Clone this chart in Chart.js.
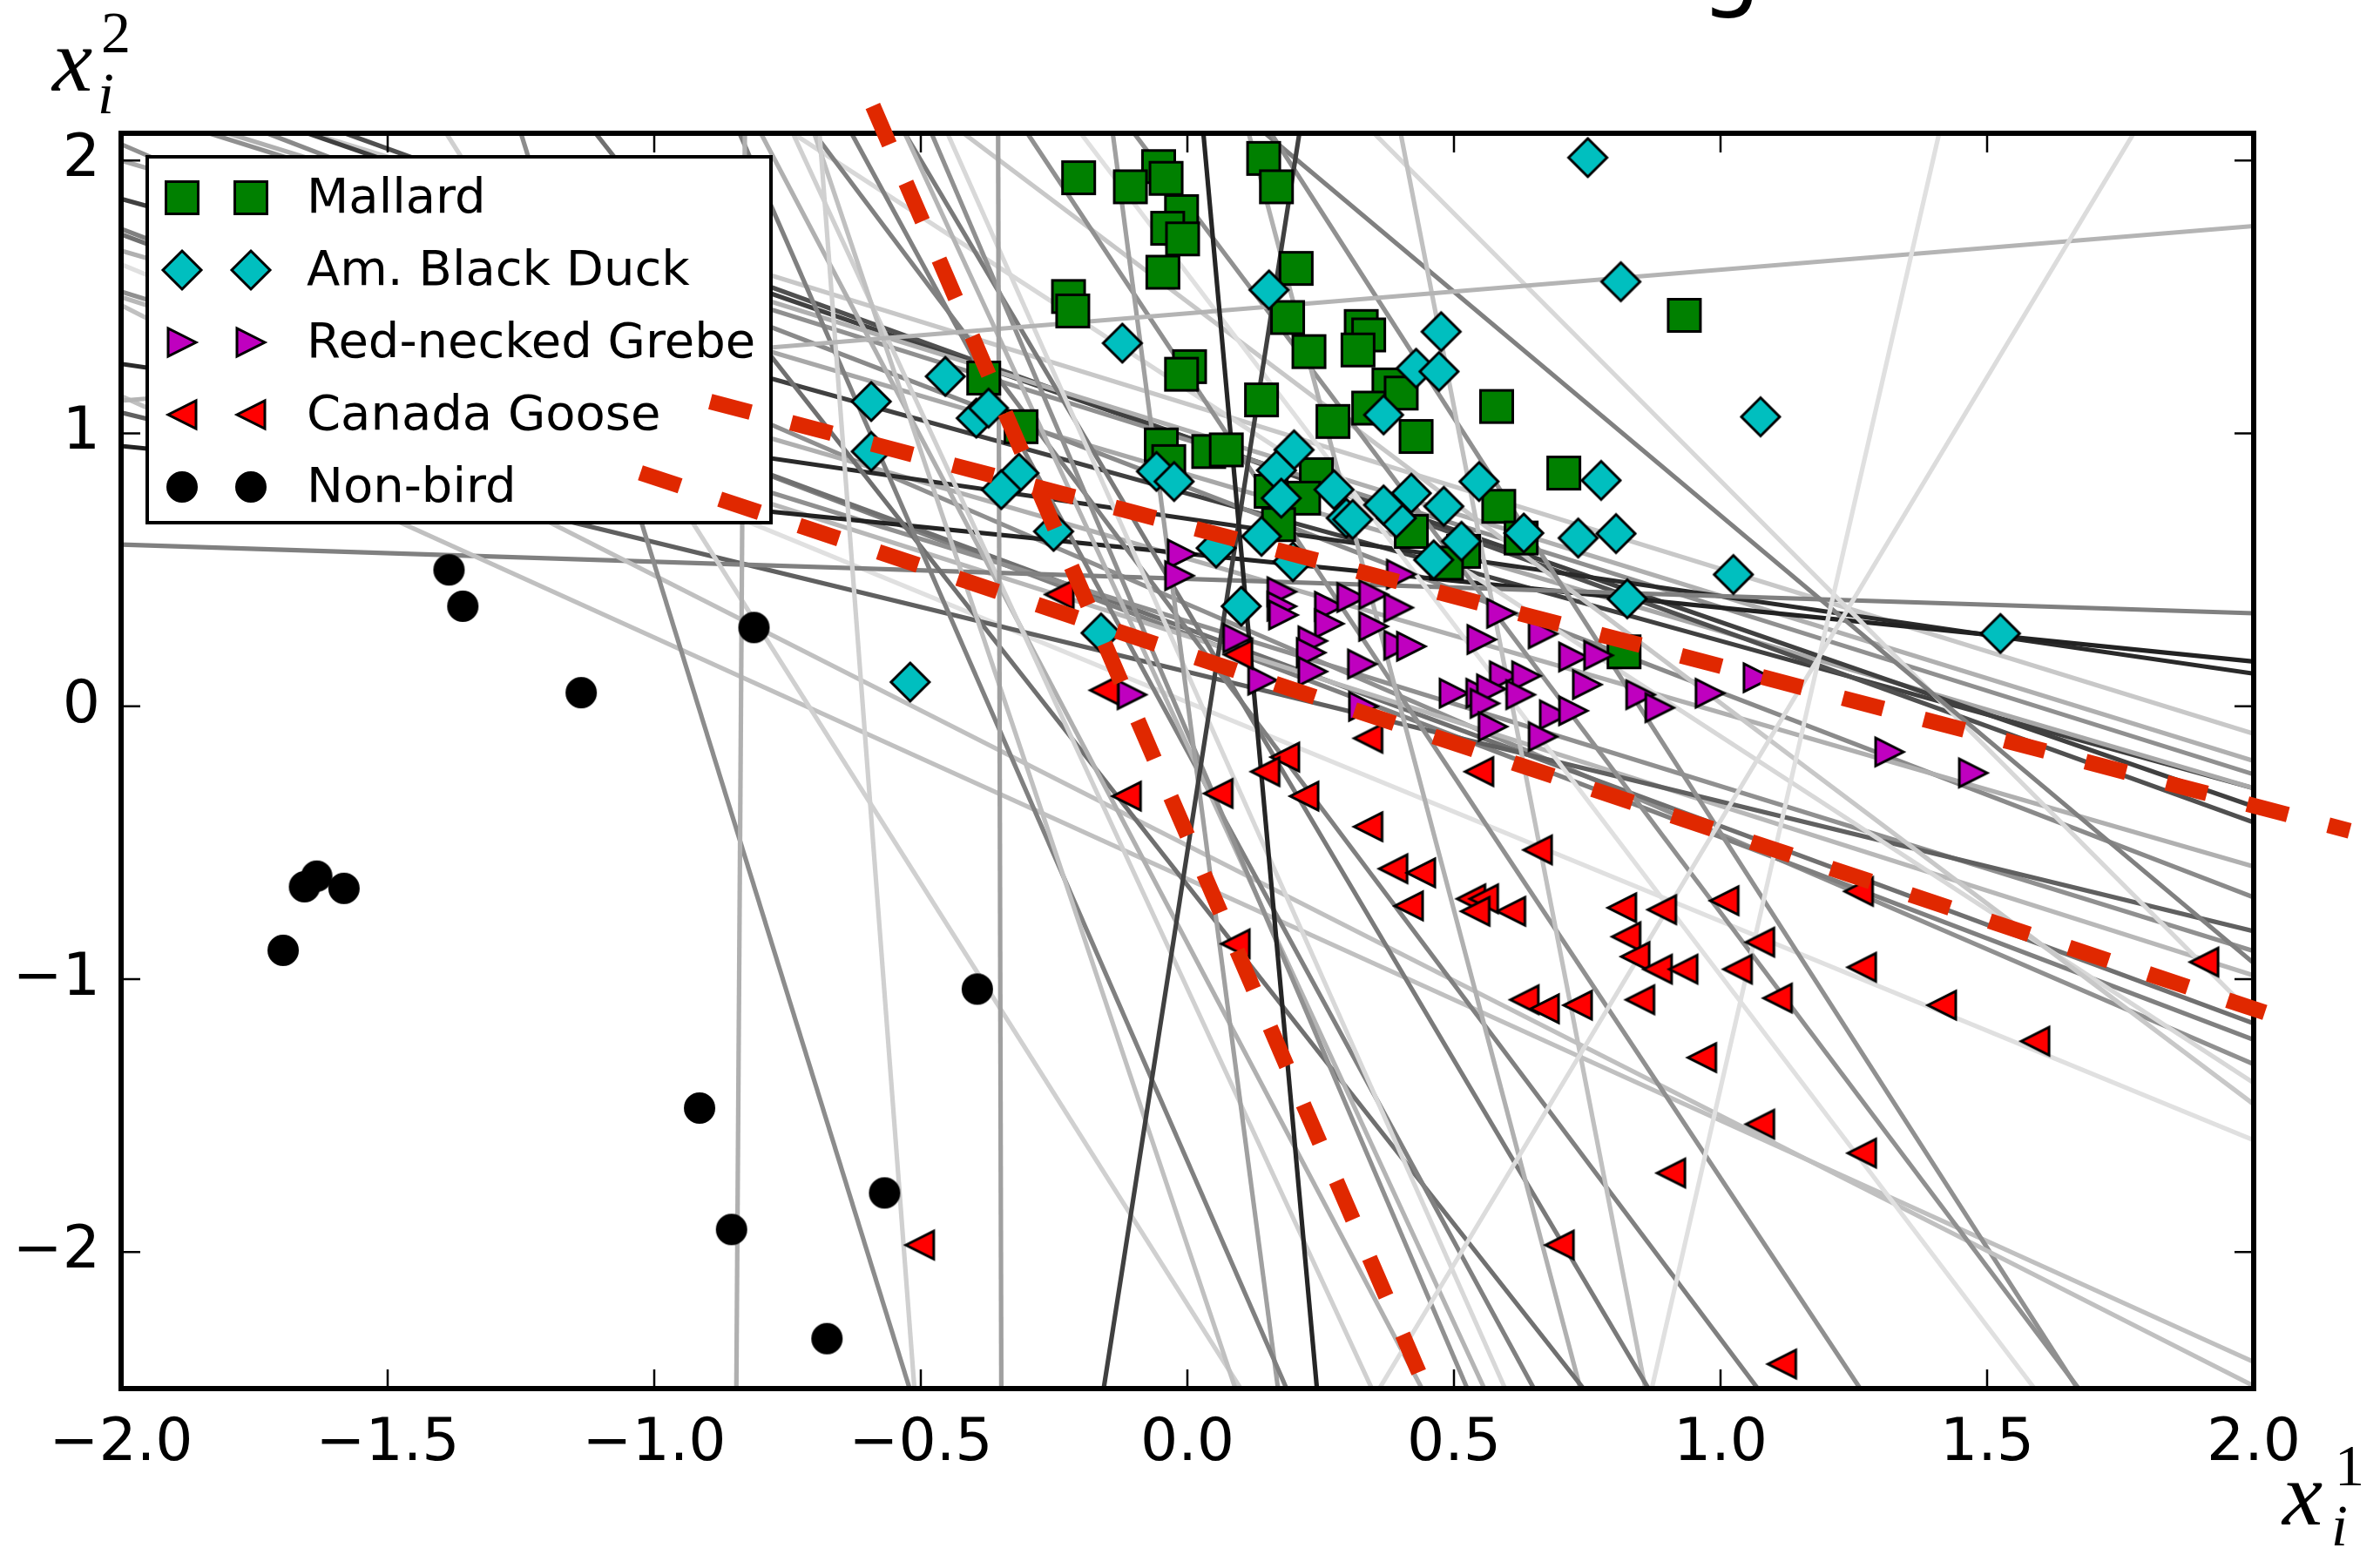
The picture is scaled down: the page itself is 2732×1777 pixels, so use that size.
<!DOCTYPE html>
<html>
<head>
<meta charset="utf-8">
<script src="https://cdn.jsdelivr.net/npm/chart.js@4.4.1/dist/chart.umd.min.js"></script>
<style>
  html, body { margin: 0; padding: 0; background: #fff; }
  canvas { display: block; }
</style>
</head>
<body>
<canvas id="birdChart" width="2732" height="1777"></canvas>
<script>
// points per class (x_i^1, x_i^2)
const mallardX = [-0.204,-0.054,-0.040,-0.107,0.143,0.167,-0.011,-0.037,-0.009,-0.046,0.204,-0.223,-0.215,0.188,0.326,0.340,0.320,0.228,0.004,-0.011,-0.382,0.139,0.378,0.401,0.340,0.580,0.273,0.429,-0.312,-0.049,-0.035,0.040,0.073,0.706,0.242,0.218,0.157,0.584,0.420,0.626,0.171,0.518,0.486,0.932,0.819];
const mallardY = [1.937,1.978,1.935,1.904,2.008,1.904,1.813,1.752,1.713,1.591,1.605,1.502,1.449,1.425,1.392,1.361,1.306,1.300,1.245,1.217,1.203,1.123,1.178,1.148,1.093,1.099,1.044,0.989,1.025,0.958,0.897,0.934,0.940,0.855,0.849,0.763,0.788,0.733,0.641,0.617,0.666,0.568,0.525,1.433,0.200];

const duckX = [0.153,-0.122,0.476,-0.454,0.429,0.472,-0.593,-0.396,-0.373,0.368,-0.593,-0.316,-0.349,-0.058,-0.025,0.200,0.167,0.176,0.275,0.298,0.310,0.392,0.420,0.368,0.481,0.547,0.514,0.631,0.462,0.139,0.054,-0.251,0.101,-0.162,0.751,0.813,1.075,0.776,0.733,0.804,0.825,1.024,1.525,-0.520,0.198];
const duckY = [1.526,1.331,1.373,1.209,1.239,1.227,1.117,1.056,1.093,1.068,0.934,0.855,0.794,0.861,0.824,0.940,0.865,0.763,0.794,0.690,0.685,0.690,0.781,0.738,0.733,0.824,0.605,0.635,0.537,0.623,0.580,0.641,0.367,0.269,2.011,1.556,1.061,0.828,0.617,0.633,0.394,0.483,0.267,0.089,0.530];

const grebeX = [-0.010,-0.015,0.177,0.177,0.180,0.266,0.308,0.349,0.401,0.396,0.266,0.349,0.094,0.235,0.396,0.420,0.232,0.235,0.328,0.141,-0.104,0.589,0.552,0.667,0.724,0.771,0.594,0.636,0.500,0.550,0.570,0.625,0.558,0.688,0.724,0.573,0.667,0.750,0.850,0.886,0.980,1.070,1.317,1.474,0.330];
const grebeY = [0.558,0.479,0.420,0.367,0.335,0.367,0.399,0.410,0.484,0.362,0.303,0.293,0.250,0.240,0.224,0.220,0.197,0.128,0.155,0.096,0.043,0.341,0.245,0.266,0.181,0.187,0.112,0.112,0.048,0.048,0.064,0.043,0.011,-0.031,-0.016,-0.074,-0.111,0.080,0.043,-0.005,0.048,0.105,-0.167,-0.244,0.000];

const gooseX = [-0.156,-0.240,0.095,0.339,0.183,0.146,-0.114,0.058,0.219,0.339,0.547,0.657,0.386,0.438,1.259,0.415,0.532,0.556,0.540,0.607,0.815,0.890,1.007,0.823,1.074,0.840,0.882,0.930,1.032,1.265,1.907,0.632,0.670,0.732,0.849,1.107,1.415,1.590,0.965,1.074,1.265,0.907,0.698,-0.502,1.115,0.090];
const gooseY = [0.059,0.410,0.190,-0.117,-0.186,-0.239,-0.329,-0.319,-0.329,-0.441,-0.239,-0.526,-0.595,-0.610,-0.678,-0.731,-0.705,-0.705,-0.751,-0.751,-0.738,-0.745,-0.712,-0.844,-0.864,-0.917,-0.963,-0.963,-0.963,-0.956,-0.937,-1.075,-1.108,-1.095,-1.075,-1.069,-1.095,-1.227,-1.287,-1.531,-1.637,-1.710,-1.974,-1.974,-2.410,-0.870];

const nonbirdX = [-1.385,-1.359,-1.137,-0.813,-1.696,-1.656,-1.633,-1.582,-0.394,-0.915,-0.855,-0.568,-0.676];
const nonbirdY = [0.500,0.367,0.050,0.289,-0.894,-0.661,-0.622,-0.667,-1.036,-1.472,-1.917,-1.783,-2.317];

// candidate separating lines (end points)
const lineX1 = [-0.83,-0.355,0.03,0.21,1.775,1.41,-2,-1.25,-0.69,-0.70,-0.84,-0.14,-0.74,-0.80,-0.48,-0.53,-0.45,-0.63,-1.11,0.115,-0.53,0.40,-0.70,-0.30,-0.20,-0.10,-2,0.157,0.146,0.35,-0.42,-1.39,-2,-0.74,-2,-2,-2,-1.835,-1.80,-1.65,-1.58,-2,-2,-2,-2,-2,-2,-2,-2,-1.726,-1.643,-2,-2];
const lineY1 = [2.1,2.1,2.1,2.1,2.1,2.1,1.12,2.1,2.1,2.1,2.1,2.1,2.1,2.1,2.1,2.1,2.1,2.1,2.1,2.1,2.1,2.1,2.1,2.1,2.1,2.1,1.47,2.1,2.1,2.1,2.1,2.1,1.137,2.1,0.593,0.954,1.255,2.1,2.1,2.1,2.1,1.67,1.077,1.52,1.50,1.73,1.75,2.06,1.62,2.1,2.1,2.0,1.86];
const lineX2 = [-0.846,-0.349,0.243,-0.157,0.36,0.871,2,-0.521,-0.512,0.09,0.186,0.17,0.346,0.44,0.525,0.557,0.596,0.65,0.743,0.737,0.865,0.859,1.07,1.262,1.589,1.672,2,1.673,2,2,2,0.10,2,2,2,2,2,2,2,2,2,2,2,2,2,2,2,2,2,2,2,2,2];
const lineY2 = [-2.5,-2.5,-2.5,-2.5,-2.5,-2.5,1.76,-2.5,-2.5,-2.5,-2.5,-2.5,-2.5,-2.5,-2.5,-2.5,-2.5,-2.5,-2.5,-2.5,-2.5,-2.5,-2.5,-2.5,-2.5,-2.5,-2.49,-2.51,-0.941,-1.133,-1.458,-2.5,-2.402,-1.38,0.341,0.164,0.12,-0.249,-0.20,-0.367,-0.425,-0.587,-0.824,-0.897,-0.986,-1.162,-1.222,-1.311,-1.59,-0.70,-0.10,-0.30,-0.30];
const lineShade = ['#b0b0b0','#a0a0a0','#252525','#404040','#dcdcdc','#e0e0e0','#b4b4b4','#8c8c8c','#d0d0d0','#c0c0c0','#808080','#a0a0a0','#d0d0d0','#b0b0b0','#909090','#b4b4b4','#d8d8d8','#808080','#707070','#b0b0b0','#7a7a7a','#c0c0c0','#808080','#909090','#e0e0e0','#909090','#c0c0c0','#909090','#808080','#d8d8d8','#c8c8c8','#d0d0d0','#c0c0c0','#d8d8d8','#808080','#222222','#2a2a2a','#909090','#b0b0b0','#404040','#505050','#b0b0b0','#606060','#909090','#b8b8b8','#707070','#808080','#909090','#e0e0e0','#8a8a8a','#c8c8c8','#a8a8a8','#404040'];

// the three dashed separators
const sepX1 = [-0.59, -0.895, -1.026];
const sepY1 = [2.2, 1.117, 0.856];
const sepX2 = [0.434, 2.18, 2.021];
const sepY2 = [-2.44, -0.456, -1.122];

const xTickValues = [-2, -1.5, -1, -0.5, 0, 0.5, 1, 1.5, 2];
const yTickValues = [-2, -1, 0, 1, 2];

const classNames = ['Mallard', 'Am. Black Duck', 'Red-necked Grebe', 'Canada Goose', 'Non-bird'];

// marker bitmaps, matplotlib style
function makeMarker(kind, fill) {
  const c = document.createElement('canvas');
  c.width = 54; c.height = 54;
  const g = c.getContext('2d');
  const m = 27;
  g.beginPath();
  if (kind === 'square') {
    g.rect(m - 18.5, m - 18.5, 37, 37);
  } else if (kind === 'diamond') {
    g.moveTo(m, m - 22); g.lineTo(m + 22, m); g.lineTo(m, m + 22); g.lineTo(m - 22, m); g.closePath();
  } else if (kind === 'right') {
    g.moveTo(m + 16, m); g.lineTo(m - 16, m - 16); g.lineTo(m - 16, m + 16); g.closePath();
  } else if (kind === 'left') {
    g.moveTo(m - 16, m); g.lineTo(m + 16, m - 16); g.lineTo(m + 16, m + 16); g.closePath();
  } else {
    g.arc(m, m, 16.5, 0, Math.PI * 2);
  }
  g.fillStyle = fill;
  g.fill();
  g.lineWidth = 3;
  g.strokeStyle = '#000';
  g.stroke();
  return c;
}

const markers = [
  makeMarker('square', '#008000'),
  makeMarker('diamond', '#00bfbf'),
  makeMarker('right', '#bf00bf'),
  makeMarker('left', '#ff0000'),
  makeMarker('circle', '#000000')
];

function pts(xs, ys) {
  return xs.map((x, i) => ({ x: x, y: ys[i] }));
}

const datasets = [];

for (let i = 0; i < lineX1.length; i++) {
  datasets.push({
    label: 'line' + i,
    data: [{ x: lineX1[i], y: lineY1[i] }, { x: lineX2[i], y: lineY2[i] }],
    showLine: true,
    borderColor: lineShade[i],
    borderWidth: 5.2,
    pointRadius: 0,
    clip: 0,
    order: 20
  });
}

const classX = [mallardX, duckX, grebeX, gooseX, nonbirdX];
const classY = [mallardY, duckY, grebeY, gooseY, nonbirdY];
classNames.forEach((name, k) => {
  datasets.push({
    label: name,
    data: pts(classX[k], classY[k]),
    pointStyle: markers[k],
    pointRadius: 20,
    showLine: false,
    clip: false,
    order: 15 - k
  });
});

for (let i = 0; i < sepX1.length; i++) {
  datasets.push({
    label: 'sep' + i,
    data: [{ x: sepX1[i], y: sepY1[i] }, { x: sepX2[i], y: sepY2[i] }],
    showLine: true,
    borderColor: '#e02800',
    borderWidth: 18,
    borderDash: [48, 48],
    borderCapStyle: 'butt',
    pointRadius: 0,
    clip: false,
    order: 1
  });
}

function fmtMinus(s) {
  return s.replace('-', '\u2212');
}

// frame, inward ticks and the legend: drawn just before the dashed lines
function drawFrameAndLegend(chart) {
  const ctx = chart.ctx;
  const a = chart.chartArea;
  const xs = chart.scales.x, ys = chart.scales.y;
  ctx.save();
  ctx.strokeStyle = '#000';
  ctx.lineWidth = 2.5;
  ctx.beginPath();
  xTickValues.forEach(v => {
    const px = xs.getPixelForValue(v);
    ctx.moveTo(px, a.bottom); ctx.lineTo(px, a.bottom - 22);
    ctx.moveTo(px, a.top); ctx.lineTo(px, a.top + 22);
  });
  yTickValues.forEach(v => {
    const py = ys.getPixelForValue(v);
    ctx.moveTo(a.left, py); ctx.lineTo(a.left + 22, py);
    ctx.moveTo(a.right, py); ctx.lineTo(a.right - 22, py);
  });
  ctx.stroke();
  ctx.lineWidth = 6;
  ctx.strokeRect(a.left, a.top, a.right - a.left, a.bottom - a.top);

  // legend box
  const lx = 169, ly = 180, lw = 716, lh = 420;
  ctx.fillStyle = '#fff';
  ctx.fillRect(lx, ly, lw, lh);
  ctx.lineWidth = 4;
  ctx.strokeRect(lx, ly, lw, lh);
  ctx.font = '56px "DejaVu Sans"';
  ctx.fillStyle = '#000';
  ctx.textBaseline = 'middle';
  ctx.textAlign = 'left';
  classNames.forEach((name, k) => {
    const cy = 227 + k * 83;
    const mk = markers[k];
    ctx.drawImage(mk, 209 - mk.width / 2, cy - mk.height / 2);
    ctx.drawImage(mk, 288 - mk.width / 2, cy - mk.height / 2);
    ctx.fillText(name, 352, cy + 2);
  });
  ctx.restore();
}

const overlayPlugin = {
  id: 'overlay',
  beforeDatasetsDraw(chart) {
    chart.$overlayDone = false;
  },
  beforeDatasetDraw(chart, args) {
    const lbl = chart.data.datasets[args.index].label;
    if (!chart.$overlayDone && lbl.indexOf('sep') === 0) {
      drawFrameAndLegend(chart);
      chart.$overlayDone = true;
    }
  },
  afterDatasetsDraw(chart) {
    if (!chart.$overlayDone) {
      drawFrameAndLegend(chart);
      chart.$overlayDone = true;
    }
  },
  afterDraw(chart) {
    const ctx = chart.ctx;
    ctx.save();
    ctx.fillStyle = '#000';
    ctx.textAlign = 'left';
    ctx.textBaseline = 'alphabetic';
    // axis labels x_i^2 and x_i^1
    ctx.font = 'italic 104px "Liberation Serif"';
    ctx.fillText('x', 60, 104);
    ctx.fillText('x', 2620, 1750);
    ctx.font = '68px "Liberation Serif"';
    ctx.fillText('2', 116, 60);
    ctx.fillText('1', 2680, 1705);
    ctx.font = 'italic 68px "Liberation Serif"';
    ctx.fillText('i', 112, 130);
    ctx.fillText('i', 2676, 1774);
    // bottom of the title, cut off by the top of the picture
    ctx.font = '110px "DejaVu Sans"';
    ctx.fillText('g', 1952, -2);
    ctx.restore();
  }
};

Chart.defaults.font.family = '"DejaVu Sans"';
Chart.defaults.color = '#000';

new Chart(document.getElementById('birdChart'), {
  type: 'scatter',
  data: { datasets: datasets },
  options: {
    responsive: false,
    animation: false,
    devicePixelRatio: 1,
    events: [],
    layout: { padding: { top: 153, right: 145, left: 0, bottom: 0 } },
    plugins: {
      legend: { display: false },
      tooltip: { enabled: false },
      title: { display: false }
    },
    scales: {
      x: {
        type: 'linear',
        min: -2, max: 2,
        afterBuildTicks: s => { s.ticks = xTickValues.map(v => ({ value: v })); },
        afterFit: s => { s.height = 183; },
        grid: { display: false },
        border: { display: false },
        ticks: {
          autoSkip: false, maxRotation: 0, padding: 16,
          font: { size: 68 },
          callback: v => fmtMinus(Number(v).toFixed(1))
        }
      },
      y: {
        type: 'linear',
        min: -2.5, max: 2.1,
        afterBuildTicks: s => { s.ticks = yTickValues.map(v => ({ value: v })); },
        afterFit: s => { s.width = 139; },
        grid: { display: false },
        border: { display: false },
        ticks: {
          autoSkip: false, padding: 16,
          font: { size: 68 },
          callback: v => fmtMinus(String(v))
        }
      }
    }
  },
  plugins: [overlayPlugin]
});
</script>
</body>
</html>
